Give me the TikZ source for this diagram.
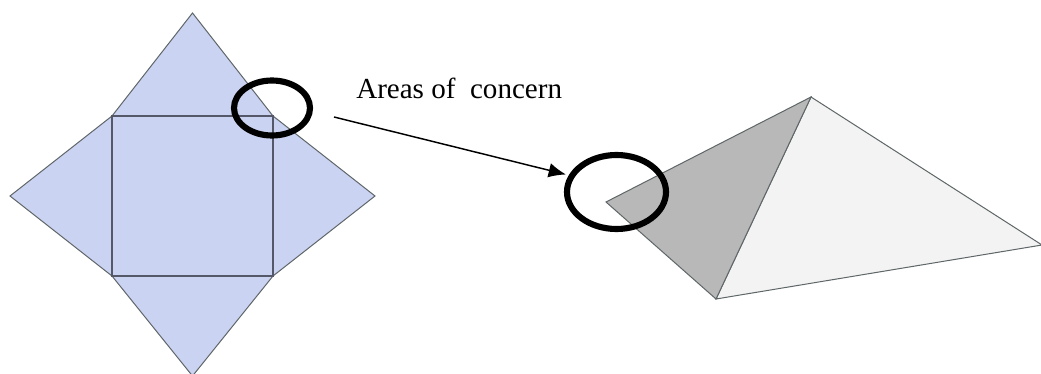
\documentclass[tikz,border=0pt]{standalone}
\usepackage{fontspec}
\setmainfont{Liberation Serif}
\usetikzlibrary{calc, arrows.meta}

\definecolor{netblue}{HTML}{CBD3F3}
\definecolor{netline}{HTML}{5F6668}
\definecolor{sideline}{HTML}{555868}
\definecolor{darkface}{HTML}{B8B8B8}
\definecolor{lightface}{HTML}{F3F3F3}

\tikzset{
    edgeline/.style={draw=netline, line width=0.75pt, line join=miter},
    concern/.style={draw=black, line width=4.6pt},
}

\begin{document}
\begin{tikzpicture}[x=0.75pt, y=-0.75pt]
    \useasboundingbox (0, 0) rectangle (1041, 374);

    \coordinate (T) at (192.5, 13);
    \coordinate (L) at (10, 196);
    \coordinate (R) at (375, 196);
    \coordinate (B) at (192.5, 376);
    \coordinate (S1) at (112, 116);
    \coordinate (S2) at (273, 116);
    \coordinate (S3) at (273, 276);
    \coordinate (S4) at (112, 276);

    \coordinate (PA) at (811, 97);
    \coordinate (PL) at (606, 202);
    \coordinate (PB) at (716, 299);
    \coordinate (PR) at (1042, 245);

    \coordinate (ArrowStart) at (334, 117);
    \coordinate (ArrowEnd) at (566, 174.5);

    % flat net
    \draw[edgeline, fill=netblue] (T) -- (S2) -- (R) -- (S3) -- (B) -- (S4) -- (L) -- (S1) -- cycle;
    \draw[draw=sideline, line width=1.1pt] (S1) -- (S2) -- (S3) -- (S4) -- cycle;

    % folded pyramid
    \draw[edgeline, fill=lightface] (PA) -- (PR) -- (PB) -- cycle;
    \draw[edgeline, fill=darkface] (PA) -- (PL) -- (PB) -- cycle;

    \draw[concern] (272, 108) ellipse [x radius=38, y radius=27.5];
    \draw[concern] (616.5, 192) ellipse [x radius=49.5, y radius=37];

    \node[anchor=base west, inner sep=0pt, font=\fontsize{21.8pt}{24pt}\selectfont] (label) at (356, 98.5)
        {Areas of\ \ concern};

    \draw[-{Latex[length=13pt, width=11pt]}, line width=1.1pt] (ArrowStart) -- (ArrowEnd);
\end{tikzpicture}
\end{document}
